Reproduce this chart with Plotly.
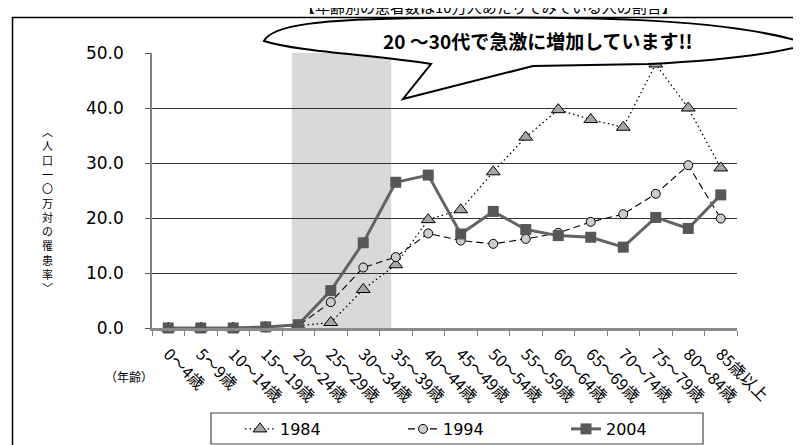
import plotly.graph_objects as go

# ---------------- data ----------------
ages = ["0～4歳", "5～9歳", "10～14歳", "15～19歳", "20～24歳", "25～29歳",
        "30～34歳", "35～39歳", "40～44歳", "45～49歳", "50～54歳", "55～59歳",
        "60～64歳", "65～69歳", "70～74歳", "75～79歳", "80～84歳", "85歳以上"]
rate_1984 = [0.0, 0.0, 0.0, 0.1, 0.4, 1.0, 7.0, 11.5, 19.7, 21.5, 28.4, 34.7,
             39.7, 37.9, 36.5, 48.0, 40.0, 29.1]
rate_1994 = [0.0, 0.0, 0.0, 0.1, 0.4, 4.7, 11.0, 12.9, 17.2, 15.9, 15.3, 16.2,
             17.3, 19.3, 20.7, 24.4, 29.6, 19.9]
rate_2004 = [0.0, 0.0, 0.0, 0.2, 0.6, 6.8, 15.5, 26.5, 27.8, 17.1, 21.2, 17.9,
             16.8, 16.5, 14.7, 20.1, 18.1, 24.2]
series_names = ["1984", "1994", "2004"]
y_ticks = [0, 10, 20, 30, 40, 50]
highlight_range = [3.8, 6.86]   # category index span of the shaded band
callout_text = "20 ～30代で急激に増加しています!!"
title_text = "【年齢別の患者数は10万人あたりでみている人の割合】"
y_title_chars = ["︿", "人", "口", "一", "〇", "万", "対", "の", "罹", "患", "率", "﹀"]
x_title = "（年齢）"

# ---------------- layout geometry ----------------
W, H = 801, 445
L, R, T, B = 144, 729, 45, 320


def px(xp):
    return (xp - L) / (R - L)


def py(yp):
    return (B - yp) / (B - T)


def pt(xp, yp):
    return f"{px(xp):.5f},{py(yp):.5f}"


fig = go.Figure()

fig.add_trace(go.Scatter(
    x=ages, y=rate_1984, name=series_names[0], mode="lines+markers",
    line=dict(color="black", width=1.3, dash="1.5px,3px"),
    marker=dict(symbol="triangle-up", size=12, color="#a6a6a6",
                line=dict(color="black", width=1)),
    cliponaxis=False))
fig.add_trace(go.Scatter(
    x=ages, y=rate_1994, name=series_names[1], mode="lines+markers",
    line=dict(color="black", width=1.1, dash="7px,4px"),
    marker=dict(symbol="circle", size=9, color="#cccccc",
                line=dict(color="black", width=1)),
    cliponaxis=False))
fig.add_trace(go.Scatter(
    x=ages, y=rate_2004, name=series_names[2], mode="lines+markers",
    line=dict(color="#636363", width=3),
    marker=dict(symbol="square", size=11, color="#575757",
                line=dict(color="#575757", width=0)),
    cliponaxis=False))

fig.update_xaxes(
    type="category", categoryorder="array", categoryarray=ages,
    range=[-0.5, len(ages) - 0.5], tickson="boundaries",
    ticks="outside", ticklen=5, tickcolor="#808080", tickwidth=1,
    showline=True, linecolor="#8a8a8a", linewidth=2.5, showgrid=False,
    tickangle=45, ticklabelstandoff=8,
    tickfont=dict(family="Noto Sans CJK JP", size=16, color="black"))
fig.update_yaxes(
    range=[0, 50], tickvals=y_ticks, tickformat=".1f",
    showgrid=True, gridcolor="#333333", gridwidth=1, zeroline=False,
    showline=True, linecolor="#808080", linewidth=1.5,
    ticks="outside", ticklen=5, tickcolor="#555555",
    ticklabelstandoff=18,
    tickfont=dict(family="DejaVu Sans", size=17, color="black"))

shapes = []
# shaded band
shapes.append(dict(type="rect", xref="x", yref="y",
                   x0=highlight_range[0], x1=highlight_range[1], y0=0, y1=50,
                   fillcolor="#d9d9d9", line=dict(width=0), layer="below"))
# outer frame (top and left edges)
shapes.append(dict(type="path", xref="paper", yref="paper",
                   path=f"M{pt(4.5, 447)} L{pt(4.5, 9.5)} L{pt(803, 9.5)}",
                   line=dict(color="black", width=1.5), layer="above"))
# callout balloon
balloon = (f"M{pt(256, 33)} C{pt(264, 17)} {pt(310, 11)} {pt(420, 10)} "
           f"C{pt(560, 8)} {pt(720, 9)} {pt(800, 36)} "
           f"C{pt(760, 48)} {pt(700, 53)} {pt(640, 56)} "
           f"L{pt(525, 58)} L{pt(395, 91)} L{pt(423, 56)} "
           f"C{pt(370, 47)} {pt(290, 44)} {pt(256, 33)} Z")
shapes.append(dict(type="path", xref="paper", yref="paper", path=balloon,
                   fillcolor="white", line=dict(color="black", width=2),
                   layer="above"))
# legend frame
shapes.append(dict(type="rect", xref="paper", yref="paper",
                   x0=px(203), x1=px(695), y0=py(405), y1=py(436),
                   line=dict(color="#444444", width=1.2), fillcolor="white",
                   layer="below"))

annotations = []
annotations.append(dict(xref="paper", yref="paper", x=px(530), y=py(33),
                        text=f"<b>{callout_text}</b>", showarrow=False,
                        font=dict(family="Noto Sans CJK JP", size=19,
                                  color="black"),
                        xanchor="center", yanchor="middle"))
annotations.append(dict(xref="paper", yref="paper", x=px(480), y=py(-2),
                        text=title_text, showarrow=False,
                        font=dict(family="Noto Sans CJK JP", size=15,
                                  color="black"),
                        xanchor="center", yanchor="middle"))
annotations.append(dict(xref="paper", yref="paper", x=px(121), y=py(368),
                        text=x_title, showarrow=False,
                        font=dict(family="Noto Sans CJK JP", size=12,
                                  color="black"),
                        xanchor="center", yanchor="middle"))
annotations.append(dict(xref="paper", yref="paper", x=px(39), y=py(201),
                        text="<br>".join(y_title_chars), showarrow=False,
                        font=dict(family="Noto Sans CJK JP", size=11,
                                  color="black"),
                        xanchor="center", yanchor="middle"))

fig.update_layout(
    width=W, height=H,
    margin=dict(l=L, r=W - R, t=T, b=H - B, autoexpand=False),
    paper_bgcolor="white", plot_bgcolor="white",
    shapes=shapes, annotations=annotations,
    showlegend=True,
    legend=dict(orientation="h", xref="container", yref="container",
                x=232 / W, y=1 - 421 / H, xanchor="left",
                yanchor="middle", bgcolor="rgba(0,0,0,0)", borderwidth=0,
                entrywidth=118, entrywidthmode="pixels",
                font=dict(family="DejaVu Sans", size=16, color="black")),
)

fig.write_html("out.html")
